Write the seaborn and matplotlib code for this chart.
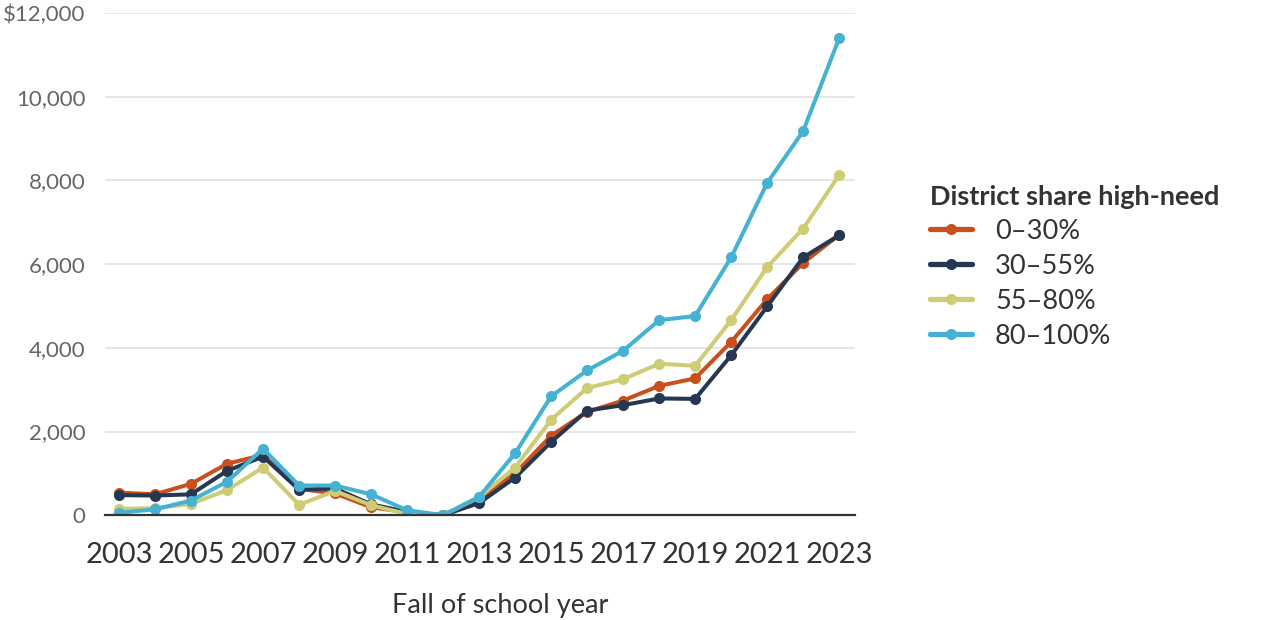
import matplotlib.pyplot as plt
import numpy as np
import pandas as pd
import seaborn as sns

years = list(range(2003, 2024))
groups = ["0–30%", "30–55%", "55–80%", "80–100%"]
colors = ["#C94F1F", "#263752", "#CFCC76", "#45B1D3"]

share_0_30 = [540, 500, 750, 1230, 1440, 630, 520, 190, 70, 0, 390, 1000, 1900, 2470, 2740, 3090, 3270, 4140, 5160, 6030, 6700]
share_30_55 = [480, 470, 500, 1060, 1400, 610, 640, 260, 80, 0, 290, 900, 1750, 2500, 2630, 2790, 2780, 3820, 4990, 6160, 6690]
share_55_80 = [150, 170, 270, 600, 1140, 250, 580, 240, 30, 0, 430, 1140, 2280, 3040, 3250, 3620, 3570, 4660, 5930, 6850, 8130]
share_80_100 = [60, 140, 350, 800, 1590, 710, 710, 500, 120, 0, 440, 1480, 2840, 3460, 3930, 4660, 4760, 6160, 7940, 9180, 11400]

y_ticks = [0, 2000, 4000, 6000, 8000, 10000, 12000]
y_tick_labels = ["0", "2,000", "4,000", "6,000", "8,000", "10,000", "$12,000"]
x_ticks = list(range(2003, 2024, 2))

df = pd.DataFrame({
  "year": years * 4,
  "value": share_0_30 + share_30_55 + share_55_80 + share_80_100,
  "group": np.repeat(groups, len(years)),
})

sns.set_theme(style="white")
plt.rcParams["font.family"] = ["Lato", "DejaVu Sans"]

fig = plt.figure(figsize=(12.8, 6.2), dpi=100)
ax = fig.add_axes([0.082, 0.169, 0.586, 0.81])

sns.lineplot(
  data=df, x="year", y="value", hue="group", hue_order=groups,
  palette=colors, marker="o", markersize=8, markeredgewidth=0,
  linewidth=2.9, ax=ax, legend=False,
)

ax.set_xlim(2002.61, 2023.44)
ax.set_ylim(0, 12000)
ax.set_yticks(y_ticks)
ax.set_yticklabels(y_tick_labels, fontsize=16, color="#666666")
ax.set_xticks(x_ticks)
ax.set_xticklabels([str(x) for x in x_ticks], fontsize=21, color="#333333")
ax.tick_params(axis="y", length=0, pad=14)
ax.tick_params(axis="x", length=0, pad=19)
for y in y_ticks[1:]:
  ax.axhline(y, color="#E2E2E2", linewidth=1.2, zorder=0)

for side in ["top", "right", "left"]:
  ax.spines[side].set_visible(False)
ax.spines["bottom"].set_color("#333333")
ax.spines["bottom"].set_linewidth(1.6)

ax.set_xlabel("Fall of school year", fontsize=19.5, color="#333333", labelpad=14)
ax.xaxis.set_label_coords(0.527, -0.155)
ax.set_ylabel("")

handles = [
  plt.Line2D([0], [0], color=c, linewidth=3.8, marker="o", markersize=8, markeredgewidth=0)
  for c in colors
]
leg = fig.legend(
  handles, groups, title="District share high-need", loc="upper left",
  bbox_to_anchor=(0.716, 0.724), frameon=False, fontsize=19.5, borderpad=0,
  title_fontproperties={"weight": "bold", "size": 19.5},
  handlelength=1.55, handletextpad=0.85, labelspacing=0.37,
)
leg._legend_box.align = "left"
leg.get_title().set_color("#333333")
for t in leg.get_texts():
  t.set_color("#333333")

fig.savefig("out.png", dpi=100)
